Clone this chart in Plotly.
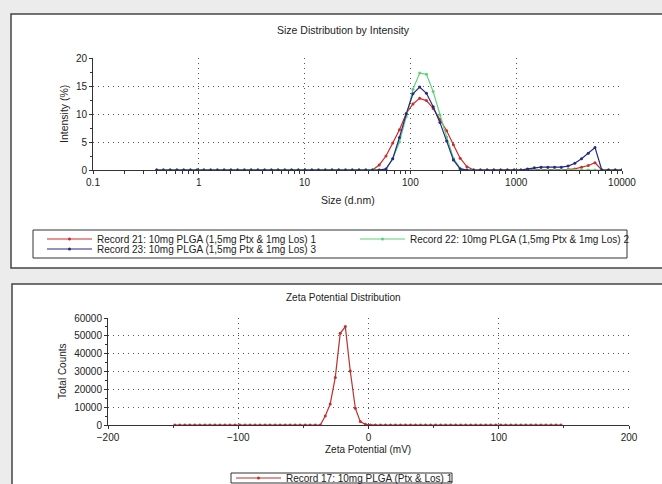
import plotly.graph_objects as go

W, H = 662, 484

# Size bins (d.nm) of the intensity distribution
size_nm = [
    0.4, 0.4632, 0.5365, 0.6213, 0.7195, 0.8332, 0.9649, 1.117, 1.294, 1.499,
    1.736, 2.010, 2.328, 2.696, 3.122, 3.615, 4.187, 4.849, 5.615, 6.503,
    7.531, 8.721, 10.10, 11.70, 13.54, 15.69, 18.17, 21.04, 24.36, 28.21,
    32.67, 37.84, 43.82, 50.75, 58.77, 68.06, 78.82, 91.28, 105.7, 122.4,
    141.8, 164.2, 190.1, 220.2, 255.0, 295.3, 342.0, 396.1, 458.7, 531.2,
    615.1, 712.4, 825.0, 955.4, 1106, 1281, 1484, 1718, 1990, 2305,
    2669, 3091, 3580, 4145, 4801, 5560, 6439, 7456, 8635, 10000,
]

# Intensity (%) per bin for each record
rec21 = [
    0, 0, 0, 0, 0, 0, 0, 0, 0, 0,
    0, 0, 0, 0, 0, 0, 0, 0, 0, 0,
    0, 0, 0, 0, 0, 0, 0, 0, 0, 0,
    0, 0, 0, 0.9, 2.5, 4.8, 7.2, 10.1, 11.8, 12.8,
    12.4, 11.0, 9.0, 7.0, 4.5, 2.1, 0.6, 0, 0, 0,
    0, 0, 0, 0, 0, 0, 0, 0, 0, 0,
    0, 0.1, 0.2, 0.5, 0.8, 1.3, 0, 0, 0, 0,
]
rec22 = [
    0, 0, 0, 0, 0, 0, 0, 0, 0, 0,
    0, 0, 0, 0, 0, 0, 0, 0, 0, 0,
    0, 0, 0, 0, 0, 0, 0, 0, 0, 0,
    0, 0, 0, 0, 0.1, 2.0, 5.0, 9.5, 14.4, 17.3,
    17.1, 14.0, 9.8, 5.9, 2.1, 0.3, 0, 0, 0, 0,
    0, 0, 0, 0, 0, 0, 0, 0, 0, 0,
    0, 0, 0, 0, 0, 0, 0, 0, 0, 0,
]
rec23 = [
    0, 0, 0, 0, 0, 0, 0, 0, 0, 0,
    0, 0, 0, 0, 0, 0, 0, 0, 0, 0,
    0, 0, 0, 0, 0, 0, 0, 0, 0, 0,
    0, 0, 0, 0, 0.2, 2.0, 5.8, 10.0, 13.6, 14.8,
    13.7, 11.3, 8.5, 5.2, 1.8, 0.2, 0, 0, 0, 0,
    0, 0, 0, 0, 0, 0.2, 0.4, 0.5, 0.5, 0.5,
    0.5, 0.7, 1.2, 2.0, 3.0, 4.0, 0, 0, 0, 0,
]

size_ticks = [0.1, 1, 10, 100, 1000, 10000]
size_tick_text = ["0.1", "1", "10", "100", "1000", "10000"]

# Zeta potential (mV) channels and total counts
zeta_mv = [
    -148.7, -144.9, -141.0, -137.2, -133.3, -129.5, -125.6, -121.8, -117.9, -114.1,
    -110.2, -106.4, -102.5, -98.7, -94.8, -91.0, -87.1, -83.3, -79.4, -75.6,
    -71.7, -67.9, -64.0, -60.2, -56.3, -52.5, -48.6, -44.8, -40.9, -37.0,
    -33.2, -29.4, -25.5, -21.7, -17.8, -14.0, -10.1, -6.3, -2.4, 1.5,
    5.3, 9.2, 13.0, 16.9, 20.7, 24.6, 28.4, 32.3, 36.1, 40.0,
    43.8, 47.7, 51.5, 55.4, 59.2, 63.1, 66.9, 70.8, 74.6, 78.5,
    82.3, 86.2, 90.0, 93.9, 97.7, 101.6, 105.4, 109.3, 113.1, 117.0,
    120.8, 124.7, 128.5, 132.4, 136.2, 140.1, 143.9, 147.8,
]
zeta_counts = [
    0, 0, 0, 0, 0, 0, 0, 0, 0, 0,
    0, 0, 0, 0, 0, 0, 0, 0, 0, 0,
    0, 0, 0, 0, 0, 0, 0, 0, 0, 0,
    5000, 11800, 26700, 51400, 55200, 30300, 9400, 1900, 400, 0,
    0, 0, 0, 0, 0, 0, 0, 0, 0, 0,
    0, 0, 0, 0, 0, 0, 0, 0, 0, 0,
    0, 0, 0, 0, 0, 0, 0, 0, 0, 0,
    0, 0, 0, 0, 0, 0, 0, 0,
]

count_ticks = [0, 10000, 20000, 30000, 40000, 50000, 60000]
count_tick_text = ["0", "10000", "20000", "30000", "40000", "50000", "60000"]

size_names = [
    "Record 21: 10mg PLGA (1,5mg Ptx & 1mg Los) 1",
    "Record 22: 10mg PLGA (1,5mg Ptx & 1mg Los) 2",
    "Record 23: 10mg PLGA (1,5mg Ptx & 1mg Los) 3",
]
zeta_name = "Record 17: 10mg PLGA (Ptx & Los) 1"

RED = "#d02a2a"
GREEN = "#5fd17c"
NAVY = "#252a85"
ZRED = "#c0302e"
FONT = "Liberation Sans, Arial, sans-serif"
INK = "#222222"
BG = "#ececec"


def px(x):
    return x / W


def py(y):
    return 1 - y / H


fig = go.Figure()

# draw order: red under green under navy
for name, vals, color, leg in [
    (size_names[0], rec21, RED, "legend"),
    (size_names[1], rec22, GREEN, "legend2"),
    (size_names[2], rec23, NAVY, "legend3"),
]:
    fig.add_trace(go.Scatter(
        x=size_nm, y=vals, name=name, mode="lines+markers",
        line=dict(color=color, width=1.2),
        marker=dict(color=color, size=3),
        xaxis="x", yaxis="y", legend=leg,
    ))

fig.add_trace(go.Scatter(
    x=zeta_mv, y=zeta_counts, name=zeta_name, mode="lines+markers",
    line=dict(color=ZRED, width=1.2),
    marker=dict(color=ZRED, size=3),
    xaxis="x2", yaxis="y2", legend="legend4",
))

grid = dict(showgrid=True, gridcolor="#555555", gridwidth=1, griddash="1px,4px",
            zeroline=False, showline=True, linecolor="#333333", linewidth=1,
            ticks="outside", tickcolor="#333333", ticklen=3,
            tickfont=dict(family=FONT, size=10, color=INK))


def legend_at(x, y):
    return dict(orientation="h", x=px(x), y=py(y), xanchor="left", yanchor="top",
                itemwidth=45, bgcolor="rgba(0,0,0,0)", borderwidth=0,
                font=dict(family=FONT, size=10, color=INK))


fig.update_layout(
    width=W, height=H, autosize=False,
    margin=dict(l=0, r=0, t=0, b=0, autoexpand=False),
    paper_bgcolor=BG, plot_bgcolor="white",
    font=dict(family=FONT, size=10, color=INK),
    xaxis=dict(type="log", range=[-1, 4], tickmode="array",
               tickvals=size_ticks, ticktext=size_tick_text,
               domain=[px(93), px(622)], anchor="y",
               minor=dict(ticks="outside", ticklen=3, dtick="D1", tickcolor="#333333"),
               **grid),
    yaxis=dict(range=[0, 20], dtick=5, domain=[py(170), py(58)], anchor="x",
               minor=dict(ticks="outside", ticklen=2, dtick=2.5, tickcolor="#333333"),
               **grid),
    xaxis2=dict(range=[-200, 200], dtick=100, domain=[px(108), px(629)], anchor="y2",
                minor=dict(ticks="outside", ticklen=2, dtick=50, tickcolor="#333333"),
                **grid),
    yaxis2=dict(range=[0, 60000], tickmode="array", tickvals=count_ticks,
                ticktext=count_tick_text, domain=[py(425), py(318)], anchor="x2",
                minor=dict(ticks="outside", ticklen=2, dtick=5000, tickcolor="#333333"),
                **grid),
    legend=legend_at(42, 224.5),
    legend2=legend_at(355, 224.5),
    legend3=legend_at(42, 234.5),
    legend4=legend_at(231, 463.5),
    showlegend=True,
)

# White panels with dark frames, and the boxes around the legends
shapes = [
    dict(type="rect", xref="paper", yref="paper", layer="below",
         x0=px(11), x1=1.05, y0=py(268), y1=py(14),
         fillcolor="white", line=dict(color="#444444", width=1.5)),
    dict(type="rect", xref="paper", yref="paper", layer="below",
         x0=px(12), x1=1.05, y0=-0.05, y1=py(284),
         fillcolor="white", line=dict(color="#444444", width=1.5)),
    dict(type="rect", xref="paper", yref="paper", layer="below",
         x0=px(33), x1=px(627), y0=py(258), y1=py(230),
         fillcolor="white", line=dict(color="#333333", width=1)),
    dict(type="rect", xref="paper", yref="paper", layer="below",
         x0=px(231), x1=px(452), y0=py(483), y1=py(473),
         fillcolor="white", line=dict(color="#333333", width=1)),
]
fig.update_layout(shapes=shapes)

# Titles and axis labels
labels = [
    ("Size Distribution by Intensity", 343, 30, 0, 10.5),
    ("Size (d.nm)", 348, 200, 0, 10.5),
    ("Intensity (%)", 64, 114, -90, 10.5),
    ("Zeta Potential Distribution", 343, 297, 0, 10),
    ("Zeta Potential (mV)", 368, 449, 0, 10),
    ("Total Counts", 62, 371, -90, 10),
]
for text, x, y, ang, fs in labels:
    fig.add_annotation(text=text, x=px(x), y=py(y), xref="paper", yref="paper",
                       xanchor="center", yanchor="middle", showarrow=False,
                       textangle=ang, font=dict(family=FONT, size=fs, color=INK))

fig.write_html("out.html")
